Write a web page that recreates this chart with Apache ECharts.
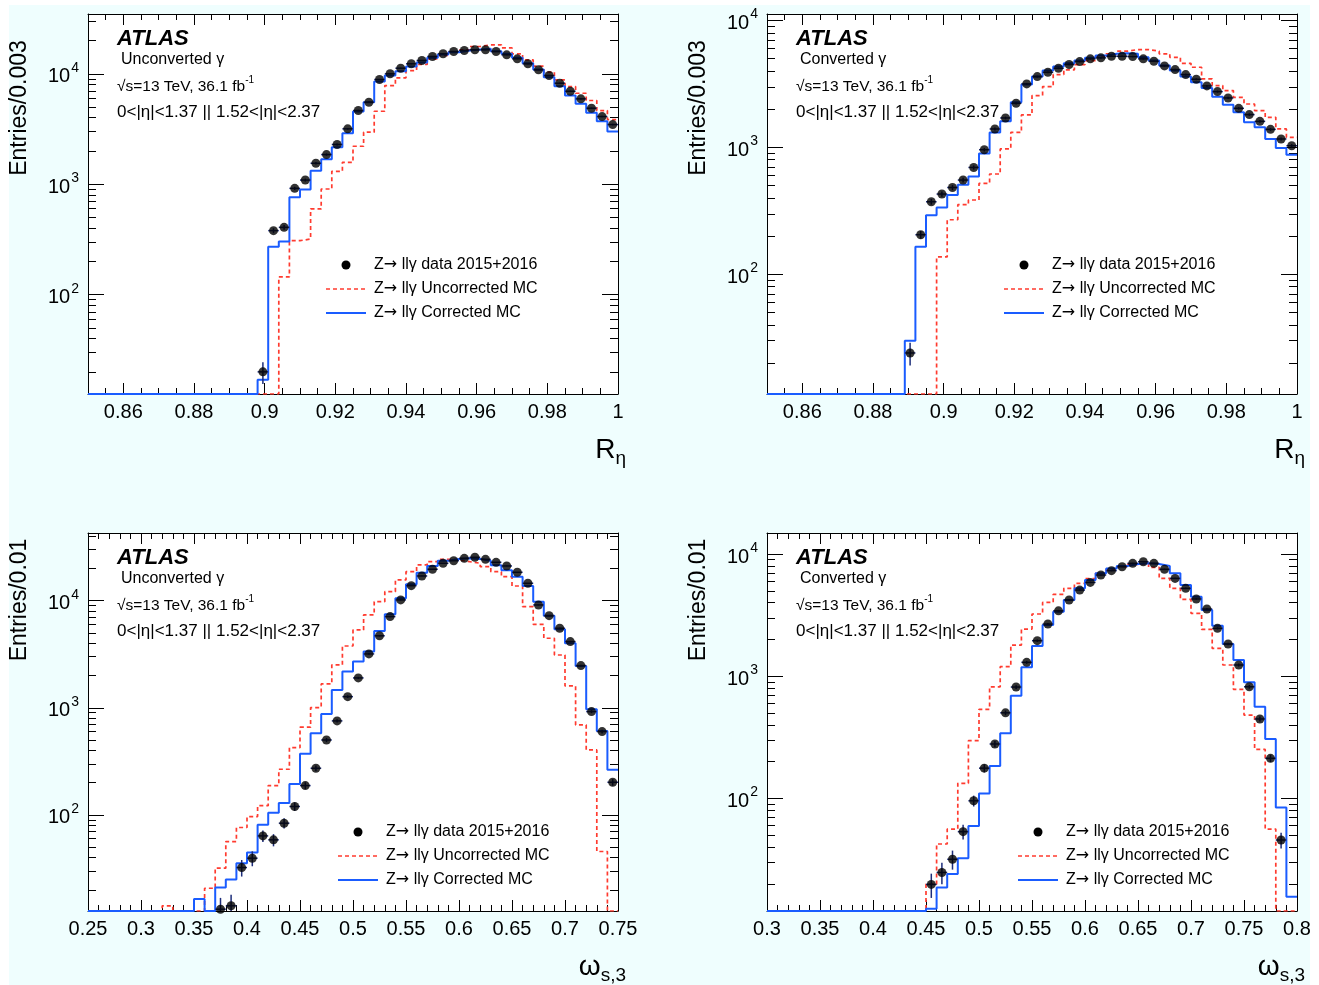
<!DOCTYPE html>
<html><head><meta charset="utf-8">
<script src="https://cdn.jsdelivr.net/npm/echarts@6/dist/echarts.min.js"></script>
<style>html,body{margin:0;padding:0;background:#fff;}#c{width:1319px;height:985px;}</style>
</head><body><div id="c"></div>
<script>
// ---------------- DATA ----------------
// R_eta histograms: 50 bins of 0.003 from 0.85 to 1.00
const rEtaLow = 0.85, rEtaWidth = 0.003;
// omega_s,3 histograms: 50 bins of 0.01
const wUnconvLow = 0.25, wConvLow = 0.30, wWidth = 0.01;

const rEtaUnconvData = [0,0,0,0,0,0,0,0,0,0,0,0,0,0,0,0,
  20,380,407,918,1091,1549,1856,2290,3175,4650,5530,8880,10000,11240,12320,13200,14350,15180,15920,16270,
  16510,16510,15920,14860,13670,12320,10870,9650,8220,6950,5930,4880,4100,3470];
const rEtaUnconvCorr = [0,0,0,0,0,0,0,0,0,0,0,0,0,0,0,0,
  17,272,303,761,895,1328,1682,2163,2897,4550,5530,8510,9650,10560,11650,12660,13960,14950,15700,16270,
  16620,16860,16030,15180,13960,12480,10940,9310,7720,6360,5350,4430,3720,3000];
const rEtaUnconvUncorr = [0,0,0,0,0,0,0,0,0,0,0,0,0,0,0,0,0,0,
  145,308,319,597,905,1308,1580,2207,2960,4580,7830,9200,10700,12140,13670,14660,15700,16510,17680,18300,
  18300,17200,15180,13390,11720,10340,8820,7660,6670,5730,4650,3850];

const rEtaConvData = [0,0,0,0,0,0,0,0,0,0,0,0,0,
  24,205,373,429,483,553,695,959,1397,1706,2226,3165,3614,3909,4204,4497,4745,4986,5076,5227,
  5227,5199,4986,4773,4389,4105,3749,3443,3051,2752,2453,2032,1813,1604,1387,1165,1031];
const rEtaConvCorr = [0,0,0,0,0,0,0,0,0,0,0,0,0,
  30,165,292,336,421,508,590,897,1313,1604,2266,3126,3614,4030,4335,4600,4832,5076,5290,5460,
  5520,5460,5130,4832,4414,4030,3614,3260,2944,2512,2173,1888,1575,1439,1165,989,875];
const rEtaConvUncorr = [0,0,0,0,0,0,0,0,0,0,0,0,0,0,0,0,
  137,269,354,385,520,617,972,1313,1803,2559,3013,3749,4083,4497,4832,5227,5460,5728,5902,5902,
  5728,5460,5130,4600,4280,3467,3069,2803,2481,2198,1948,1725,1397,1200];

const wUnconvData = [0,0,0,0,0,0,0,0,0,0,0,0,
  13.2,14.2,32.3,39.5,63.8,58.6,83.8,120,188,273,501,755,1271,1901,3184,4700,7100,10160,13800,17000,
  19630,22340,23600,24840,25400,24300,22800,21080,18400,14530,9120,7240,5530,4150,2477,922,600,202];
const wUnconvCorr = [0,0,0,0,0,0,0,0,0,0,
  16.4,0,21,25,35.5,44.6,81,105,129,195,372,579,877,1469,2178,2700,3350,5210,7460,10520,
  14220,18240,21080,23600,24490,24840,24490,23600,21380,19220,16750,13710,9790,7240,5410,4010,2460,970,608,264];
const wUnconvUncorr = [0,0,0,0,0,0,0,14.2,0,0,0,
  20.7,31.9,56.5,76.4,96.6,122,188,267,425,659,1005,1671,2512,3776,5330,7360,9790,12130,15600,18660,
  21530,23120,24320,23990,23120,22340,20750,18660,16750,13710,8790,6020,4460,3110,1600,692,405,45.6,0];

const wConvData = [0,0,0,0,0,0,0,0,0,0,0,0,0,0,0,
  19.8,24.8,31.8,53.5,95.7,177,279,502,816,1300,1954,2673,3430,4205,5070,5860,6730,7310,7870,8390,
  8650,8390,7500,6320,5240,4290,3550,2466,1834,1236,820,447,213,45.7,0];
const wConvCorr = [0,0,0,0,0,0,0,0,0,0,0,0,0,0,0,
  12.5,18.7,24.1,32.4,59.5,110,184,341,693,1183,1766,2624,3373,4205,5240,6130,6950,7630,7980,8280,
  8390,8280,7980,6950,5570,4480,3483,2590,1834,1358,891,563,306,84.5,15.7];
const wConvUncorr = [0,0,0,0,0,0,0,0,0,0,0,0,0,0,0,
  19.9,42.4,56.2,133,297,536,820,1197,1800,2434,3229,4020,4677,5240,5750,6300,6950,7500,7870,8230,
  8390,7780,6320,5240,4260,3270,2420,1690,1236,782,481,252,56.2,0,0];

const yTickLabels = [100, 1000, 10000];
const legendTexts = [' ll\u03b3 data 2015+2016', ' ll\u03b3 Uncorrected MC', ' ll\u03b3 Corrected MC'];
const photonTypes = ['Unconverted \u03b3', 'Converted \u03b3', 'Unconverted \u03b3', 'Converted \u03b3'];
const yTitles = ['Entries/0.003', 'Entries/0.003', 'Entries/0.01', 'Entries/0.01'];

// ---------------- LAYOUT / STYLE ----------------
const FONT = "'Liberation Sans', Arial, Helvetica, sans-serif";
const RED = '#ff3b2f', BLUE = '#1a5cff', ERR = '#1d2d7a';

const panels = [
  {g:{left:88,top:14,width:530,height:380}, xmin:0.85, xmax:1.0, major:0.02, minor:0.005, ymin:12.6, ymax:34800,
   low:rEtaLow, w:rEtaWidth, data:rEtaUnconvData, corr:rEtaUnconvCorr, uncorr:rEtaUnconvUncorr, xt:'R', xs:'\u03b7',
   leg:{dx:258,dy:251}, ytY:108, xtY:452},
  {g:{left:767,top:14,width:530,height:380}, xmin:0.85, xmax:1.0, major:0.02, minor:0.005, ymin:11.4, ymax:11250,
   low:rEtaLow, w:rEtaWidth, data:rEtaConvData, corr:rEtaConvCorr, uncorr:rEtaConvUncorr, xt:'R', xs:'\u03b7',
   leg:{dx:257,dy:251}, ytY:108, xtY:452},
  {g:{left:88,top:533,width:530,height:378}, xmin:0.25, xmax:0.75, major:0.05, minor:0.01, ymin:12.7, ymax:42800,
   low:wUnconvLow, w:wWidth, data:wUnconvData, corr:wUnconvCorr, uncorr:wUnconvUncorr, xt:'\u03c9', xs:'s,3',
   leg:{dx:270,dy:299}, ytY:600, xtY:969},
  {g:{left:767,top:533,width:530,height:378}, xmin:0.30, xmax:0.80, major:0.05, minor:0.01, ymin:12.0, ymax:14860,
   low:wConvLow, w:wWidth, data:wConvData, corr:wConvCorr, uncorr:wConvUncorr, xt:'\u03c9', xs:'s,3',
   leg:{dx:271,dy:299}, ytY:600, xtY:969}
];

function stepTicks(a, b, step, exclude) {
  const out = [];
  for (let i = Math.ceil(a / step - 1e-6); i * step <= b + 1e-9; i++) {
    const v = +(i * step).toFixed(5);
    if (exclude && exclude.some(e => Math.abs(e - v) < 1e-7)) continue;
    out.push(v);
  }
  return out;
}
function logMinor(a, b) {
  const out = [];
  for (let d = 0; d <= 5; d++) for (let m = 2; m <= 9; m++) {
    const v = m * Math.pow(10, d);
    if (v > a && v < b) out.push(v);
  }
  return out;
}
function fmtX(v) { return String(+v.toFixed(3)); }

function histLine(low, w, vals, floor) {
  const pts = vals.map((v, i) => [+(low + i * w).toFixed(5), v > 0 ? v : floor]);
  const last = vals[vals.length - 1];
  pts.push([+(low + vals.length * w).toFixed(5), last > 0 ? last : floor]);
  return pts;
}
function points(low, w, vals) {
  const out = [];
  vals.forEach((v, i) => { if (v > 0) out.push([+(low + (i + 0.5) * w).toFixed(5), v, w / 2]); });
  return out;
}
// statistical (Poisson) uncertainty of each data count
function errItem(params, api) {
  const x = api.value(0), v = api.value(1), hw = api.value(2);
  const e = Math.sqrt(v);
  const cs = params.coordSys;
  const p = api.coord([x, v]);
  const top = api.coord([x, v + e]);
  const bottom = cs.y + cs.height;
  const yb = (v - e) > 0 ? Math.min(api.coord([x, v - e])[1], bottom) : bottom;
  const yt = Math.max(top[1], cs.y);
  const xl = api.coord([x - hw, v])[0], xr = api.coord([x + hw, v])[0];
  const kids = [{type:'line', shape:{x1:p[0], y1:yt, x2:p[0], y2:yb}, style:{stroke:ERR, lineWidth:1.5}}];
  if (p[1] <= bottom && p[1] >= cs.y) kids.push({type:'line', shape:{x1:xl, y1:p[1], x2:xr, y2:p[1]}, style:{stroke:ERR, lineWidth:1.5}});
  return {type:'group', children: kids};
}

const grids = [], xAxes = [], yAxes = [], series = [], graphics = [];
graphics.push({type:'rect', z:-10, silent:true, shape:{x:9, y:5, width:1301, height:980}, style:{fill:'#effefe'}});

panels.forEach((P, i) => {
  grids.push(Object.assign({show:true, backgroundColor:'#ffffff', borderWidth:0}, P.g));
  const majors = stepTicks(P.xmin, P.xmax, P.major);
  const minors = stepTicks(P.xmin, P.xmax, P.minor, majors);
  const lineStyle = {color:'#000', width:1};
  const baseX = {gridIndex:i, type:'value', min:P.xmin, max:P.xmax, splitLine:{show:false}};
  ['bottom','top'].forEach(pos => {
    xAxes.push(Object.assign({}, baseX, {position:pos,
      axisLine:{show:true, onZero:false, lineStyle},
      axisTick:{show:true, inside:true, length:11, customValues:majors, lineStyle},
      axisLabel: pos === 'bottom' ? {show:true, customValues:majors, formatter:fmtX, margin:8,
        fontFamily:FONT, fontSize:20, color:'#000', showMinLabel:true, showMaxLabel:true} : {show:false}}));
    xAxes.push(Object.assign({}, baseX, {position:pos,
      axisLine:{show:false}, axisLabel:{show:false},
      axisTick:{show:true, inside:true, length:6, customValues:minors, lineStyle}}));
  });
  const yLab = yTickLabels.filter(v => v >= P.ymin && v <= P.ymax);
  const yMin = logMinor(P.ymin, P.ymax);
  const baseY = {gridIndex:i, type:'log', logBase:10, min:P.ymin, max:P.ymax, splitLine:{show:false}};
  ['left','right'].forEach(pos => {
    yAxes.push(Object.assign({}, baseY, {position:pos,
      axisLine:{show:true, onZero:false, lineStyle},
      axisTick:{show:true, inside:true, length:16, customValues:yLab, lineStyle},
      axisLabel: pos === 'left' ? {show:true, customValues:yLab, margin:9,
        formatter: v => '{a|10}{b|' + Math.round(Math.log10(v)) + '}',
        rich:{a:{fontFamily:FONT, fontSize:20, color:'#000', lineHeight:26, verticalAlign:'bottom'},
              b:{fontFamily:FONT, fontSize:14, color:'#000', verticalAlign:'top', padding:[0,0,0,1]}}} : {show:false}}));
    yAxes.push(Object.assign({}, baseY, {position:pos,
      axisLine:{show:false}, axisLabel:{show:false},
      axisTick:{show:true, inside:true, length:8, customValues:yMin, lineStyle}}));
  });
  const xi = i * 4, yi = i * 4;
  series.push({type:'line', xAxisIndex:xi, yAxisIndex:yi, step:'end', symbol:'none', silent:true,
    data: histLine(P.low, P.w, P.uncorr, P.ymin), lineStyle:{color:RED, width:1.7, type:[4,3]}, z:2});
  series.push({type:'line', xAxisIndex:xi, yAxisIndex:yi, step:'end', symbol:'none', silent:true,
    data: histLine(P.low, P.w, P.corr, P.ymin), lineStyle:{color:BLUE, width:2}, z:3});
  const pts = points(P.low, P.w, P.data);
  series.push({type:'custom', xAxisIndex:xi, yAxisIndex:yi, renderItem:errItem, clip:true, silent:true,
    data: pts, z:4});
  series.push({type:'scatter', xAxisIndex:xi, yAxisIndex:yi, symbol:'circle', symbolSize:9, silent:true,
    itemStyle:{color:'#000'}, data: pts.map(p => [p[0], p[1]]), z:5, clip:true});

  // texts
  const L = P.g.left, T = P.g.top, R = L + P.g.width, B = T + P.g.height;
  graphics.push({type:'text', x:L + 29, y:T + 25, style:{text:'ATLAS', font:'italic bold 22px ' + FONT, fill:'#000', verticalAlign:'middle'}});
  graphics.push({type:'text', x:L + 33, y:T + 46, style:{text:photonTypes[i], font:'16px ' + FONT, fill:'#000', verticalAlign:'middle'}});
  graphics.push({type:'text', x:L + 29, y:T + 71, style:{text:'{r|\u221as=13 TeV, 36.1 fb}{s|-1}', verticalAlign:'middle',
    rich:{r:{fontFamily:FONT, fontSize:15.5, fill:'#000', lineHeight:19, verticalAlign:'bottom'}, s:{fontFamily:FONT, fontSize:10, fill:'#000', verticalAlign:'top'}}}});
  graphics.push({type:'text', x:L + 29, y:T + 98, style:{text:'0<|\u03b7|<1.37 || 1.52<|\u03b7|<2.37', font:'17px ' + FONT, fill:'#000', verticalAlign:'middle'}});
  // legend
  const lx = L + P.leg.dx, ly = T + P.leg.dy;
  graphics.push({type:'circle', shape:{cx:lx, cy:ly, r:4.5}, style:{fill:'#000'}});
  graphics.push({type:'line', shape:{x1:lx - 20, y1:ly + 24, x2:lx + 20, y2:ly + 24}, style:{stroke:RED, lineWidth:1.7, lineDash:[4,3]}});
  graphics.push({type:'line', shape:{x1:lx - 20, y1:ly + 48, x2:lx + 20, y2:ly + 48}, style:{stroke:BLUE, lineWidth:2}});
  legendTexts.forEach((t, k) => graphics.push({type:'text', x:lx + 28, y:ly + 24 * k,
    style:{text:'{z|Z}{ar|\u2192}{t|' + t + '}', verticalAlign:'middle',
      rich:{z:{fontFamily:FONT, fontSize:16, fill:'#000'}, ar:{fontFamily:"'DejaVu Sans', sans-serif", fontSize:16, fill:'#000'},
            t:{fontFamily:FONT, fontSize:16, fill:'#000'}}}}));
  // axis titles
  graphics.push({type:'text', x:L - 68, y:P.ytY, rotation:Math.PI / 2,
    style:{text:yTitles[i], font:'23px ' + FONT, fill:'#000', align:'center', verticalAlign:'middle'}});
  graphics.push({type:'text', x:R + 8, y:P.xtY, style:{text:'{m|' + P.xt + '}{s|' + P.xs + '}', align:'right', verticalAlign:'middle',
    rich:{m:{fontFamily:FONT, fontSize:28, fill:'#000', lineHeight:32, verticalAlign:'top'}, s:{fontFamily:FONT, fontSize:19, fill:'#000', verticalAlign:'bottom'}}}});
});

const chart = echarts.init(document.getElementById('c'), null, {renderer:'canvas'});
chart.setOption({animation:false, backgroundColor:'#ffffff', grid:grids, xAxis:xAxes, yAxis:yAxes, series:series, graphic:graphics});
</script></body></html>
